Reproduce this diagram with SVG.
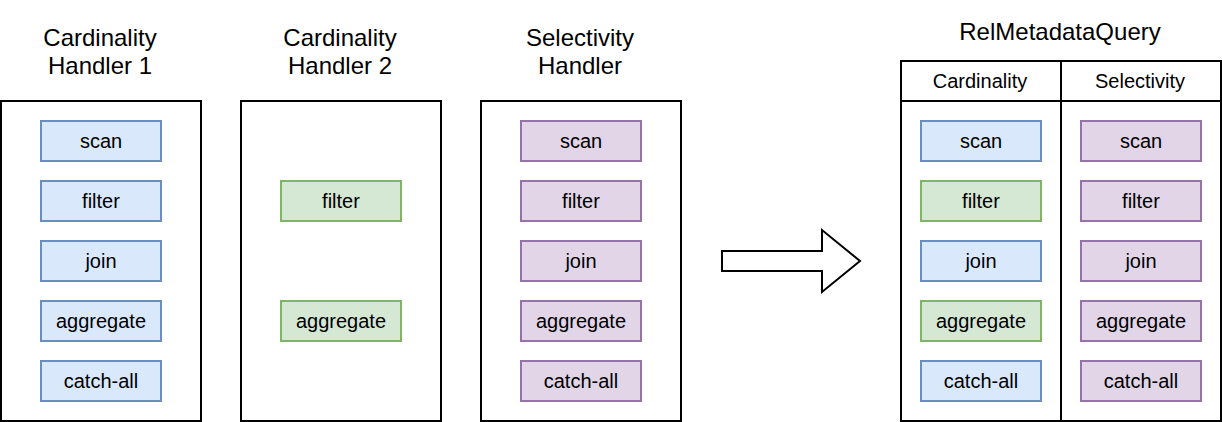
<svg xmlns="http://www.w3.org/2000/svg" width="1222" height="422" viewBox="0 0 1222 422">
<style>
text{font-family:"Liberation Sans",Arial,sans-serif;fill:#000;text-anchor:middle}
.t{font-size:24px}
.h{font-size:20px}
.n{font-size:20px}
.frame{fill:#fff;stroke:#000;stroke-width:2}
.b{fill:#dae8fc;stroke:#6c8ebf;stroke-width:2}
.g{fill:#d5e8d4;stroke:#82b366;stroke-width:2}
.p{fill:#e1d5e7;stroke:#9673a6;stroke-width:2}
</style>
<rect width="1222" height="422" fill="#fff"/>

<g id="handler1">
<text class="t" x="100" y="46">Cardinality</text>
<text class="t" x="100" y="74">Handler 1</text>
<rect class="frame" x="1" y="101" width="200" height="320"/>
<rect class="b" x="41" y="121" width="120" height="40"/><text class="n" x="101" y="148">scan</text>
<rect class="b" x="41" y="181" width="120" height="40"/><text class="n" x="101" y="208">filter</text>
<rect class="b" x="41" y="241" width="120" height="40"/><text class="n" x="101" y="268">join</text>
<rect class="b" x="41" y="301" width="120" height="40"/><text class="n" x="101" y="328">aggregate</text>
<rect class="b" x="41" y="361" width="120" height="40"/><text class="n" x="101" y="388">catch-all</text>
</g>

<g id="handler2">
<text class="t" x="340" y="46">Cardinality</text>
<text class="t" x="340" y="74">Handler 2</text>
<rect class="frame" x="241" y="101" width="200" height="320"/>
<rect class="g" x="281" y="181" width="120" height="40"/><text class="n" x="341" y="208">filter</text>
<rect class="g" x="281" y="301" width="120" height="40"/><text class="n" x="341" y="328">aggregate</text>
</g>

<g id="handler3">
<text class="t" x="580" y="46">Selectivity</text>
<text class="t" x="580" y="74">Handler</text>
<rect class="frame" x="481" y="101" width="200" height="320"/>
<rect class="p" x="521" y="121" width="120" height="40"/><text class="n" x="581" y="148">scan</text>
<rect class="p" x="521" y="181" width="120" height="40"/><text class="n" x="581" y="208">filter</text>
<rect class="p" x="521" y="241" width="120" height="40"/><text class="n" x="581" y="268">join</text>
<rect class="p" x="521" y="301" width="120" height="40"/><text class="n" x="581" y="328">aggregate</text>
<rect class="p" x="521" y="361" width="120" height="40"/><text class="n" x="581" y="388">catch-all</text>
</g>

<g id="connectors">
<path d="M722,251 H822 V230 L860,261 L822,292 V271 H722 Z" fill="#fff" stroke="#000" stroke-width="2" stroke-linejoin="miter"/>
</g>

<g id="relmetadataquery">
<text class="t" x="1060" y="40">RelMetadataQuery</text>
<rect class="frame" x="901" y="61" width="320" height="360"/>
<line x1="901" y1="101" x2="1221" y2="101" stroke="#000" stroke-width="2"/>
<line x1="1061" y1="61" x2="1061" y2="421" stroke="#000" stroke-width="2"/>
<text class="h" x="980" y="88">Cardinality</text>
<text class="h" x="1140" y="88">Selectivity</text>
<rect class="b" x="921" y="121" width="120" height="40"/><text class="n" x="981" y="148">scan</text>
<rect class="g" x="921" y="181" width="120" height="40"/><text class="n" x="981" y="208">filter</text>
<rect class="b" x="921" y="241" width="120" height="40"/><text class="n" x="981" y="268">join</text>
<rect class="g" x="921" y="301" width="120" height="40"/><text class="n" x="981" y="328">aggregate</text>
<rect class="b" x="921" y="361" width="120" height="40"/><text class="n" x="981" y="388">catch-all</text>
<rect class="p" x="1081" y="121" width="120" height="40"/><text class="n" x="1141" y="148">scan</text>
<rect class="p" x="1081" y="181" width="120" height="40"/><text class="n" x="1141" y="208">filter</text>
<rect class="p" x="1081" y="241" width="120" height="40"/><text class="n" x="1141" y="268">join</text>
<rect class="p" x="1081" y="301" width="120" height="40"/><text class="n" x="1141" y="328">aggregate</text>
<rect class="p" x="1081" y="361" width="120" height="40"/><text class="n" x="1141" y="388">catch-all</text>
</g>
</svg>
